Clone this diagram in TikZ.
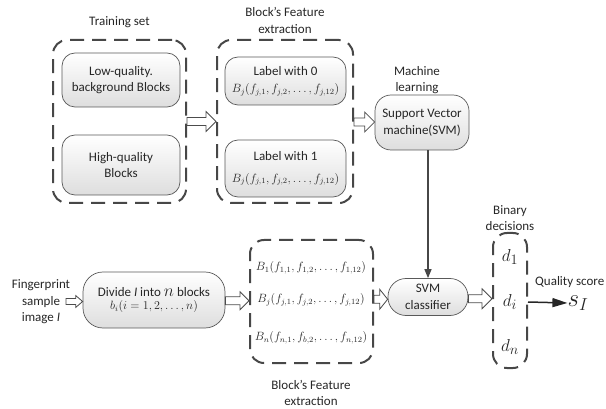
\documentclass[tikz,border=0pt]{standalone}
\usepackage{fontspec}
\setmainfont{Carlito}
\usetikzlibrary{calc,arrows.meta}
\newcommand\myfs{\fontsize{13}{16.5}\selectfont}
\newcommand\mathfs{\fontsize{12}{14}\selectfont}
\newcommand\blockarrow[5]{%
 \draw[barrow] let \p1=(#1), \p2=(#2), \n1={0.5*(\y1+\y2)} in
 (\x1,\n1+#3) -- (\x2-#5,\n1+#3) -- (\x2-#5,\n1+#4) -- (\x2,\n1) -- (\x2-#5,\n1-#4) -- (\x2-#5,\n1-#3) -- (\x1,\n1-#3) -- cycle;}
\begin{document}
\begin{tikzpicture}[x=1pt,y=-1pt,
  outer/.style={draw=black!72, line width=2pt, dash pattern=on 14pt off 8pt, rounded corners=14pt, inner sep=0pt},
  inbox/.style={draw=black!65, line width=0.7pt, rounded corners=13pt, top color=white, bottom color=black!13, inner sep=0pt, align=center, font=\myfs, text=black!85},
  lbl/.style={align=center, font=\myfs, text=black!85},
  formula/.style={font=\mathfs, text=black!85, inner sep=0pt},
  barrow/.style={draw=black!70, line width=0.8pt, fill=white, line join=miter},
  dlbl/.style={font=\fontsize{19}{21}\selectfont, text=black!85, inner sep=0pt}
]
\useasboundingbox (0,0) rectangle (606,409);

% Training set
\node[lbl] (ttrain) at (119.5,22) {Training set};
\node[outer, minimum width=133pt, minimum height=163pt] (train) at (119.5,121.5) {};
\node[inbox, minimum width=118pt, minimum height=54pt] (low) at (121,80) {Low-quality.\\background Blocks};
\node[inbox, minimum width=118pt, minimum height=60pt] (high) at (121,165) {High-quality\\Blocks};

% Feature extraction (top)
\node[lbl] (tfeat) at (285,20.5) {Block’s Feature\\extraction};
\node[outer, minimum width=136pt, minimum height=163pt] (feat) at (285,121.5) {};
\node[inbox, minimum width=121pt, minimum height=48pt] (lab0) at (285.5,81) {Label with 0\\[1pt]{\mathfs$B_j(f_{j,1}, f_{j,2}, \ldots, f_{j,12})$}};
\node[inbox, minimum width=121pt, minimum height=57pt] (lab1) at (285.5,168.5) {Label with 1\\[5pt]{\mathfs$B_j(f_{j,1}, f_{j,2}, \ldots, f_{j,12})$}};

% SVM
\node[lbl] (tml) at (417,80) {Machine\\learning};
\node[inbox, rounded corners=16pt, minimum width=94pt, minimum height=55pt] (svm) at (422,122.5) {Support Vector\\machine(SVM)};

% Bottom row
\node[lbl] (fp) at (41,302) {Fingerprint\\sample\\image \textit{I}};
\coordinate (fpout) at (66,303);
\node[inbox, rounded corners=20pt, minimum width=142pt, minimum height=56pt] (divide) at (154,300) {Divide \textit{I} into {\fontsize{16}{16}\selectfont$n$} blocks\\[-3pt]{\mathfs$b_i(i=1,2,\ldots,n)$}};

\node[outer, minimum width=123pt, minimum height=123pt] (feat2) at (311.5,301.5) {};
\node[formula] (f1) at (311,268) {$B_1(f_{1,1}, f_{1,2}, \ldots, f_{1,12})$};
\node[formula] (fj) at (311,300) {$B_j(f_{j,1}, f_{j,2}, \ldots, f_{j,12})$};
\node[formula] (fn) at (311,338) {$B_n(f_{n,1}, f_{b,2}, \ldots, f_{n,12})$};
\node[lbl] (tfeat2) at (311,393) {Block’s Feature\\extraction};

\node[inbox, rounded corners=18pt, minimum width=80pt, minimum height=37pt] (cls) at (428,297) {SVM\\classifier};

\node[lbl] (tbin) at (510,218) {Binary\\decisions};
\node[outer, minimum width=34pt, minimum height=135pt] (dec) at (510,300.5) {};
\node[dlbl] (d1) at (510,257) {$d_1$};
\node[dlbl] (di) at (510,302) {$d_i$};
\node[dlbl] (dn) at (510,347) {$d_n$};

\node[lbl, anchor=west, inner sep=0pt] (tq) at (535,282) {Quality score};
\node[inner sep=0pt, font=\fontsize{23}{25}\selectfont, text=black!85] (sI) at (578,303) {$s_I$};

% Connectors
\blockarrow{train.east}{feat.west}{4pt}{10pt}{10pt}
\blockarrow{feat.east}{svm.west}{4pt}{10pt}{10pt}
\blockarrow{fpout}{divide.west}{3pt}{6pt}{7pt}
\blockarrow{divide.east}{feat2.west}{4pt}{9pt}{9pt}
\blockarrow{feat2.east}{cls.west}{4pt}{10pt}{8pt}
\blockarrow{cls.east}{dec.west}{4pt}{10pt}{10pt}

\draw[draw=black!72, line width=1.3pt, -{Triangle[length=9pt,width=7pt]}] (cls.north |- svm.south) -- (cls.north);
\draw[draw=black!85, line width=1.5pt, -{Triangle[length=15pt,width=9pt]}] (dec.east |- di) -- (sI.west);
\end{tikzpicture}
\end{document}
